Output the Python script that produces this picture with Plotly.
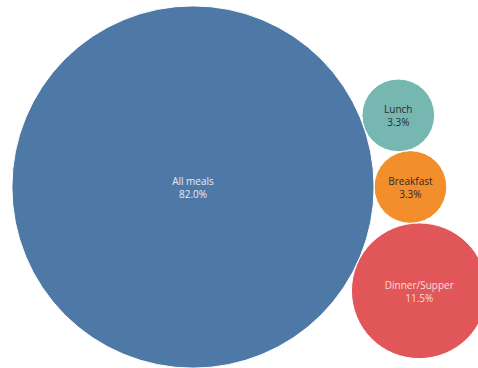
import math
import plotly.graph_objects as go

categories = ["All meals", "Lunch", "Breakfast", "Dinner/Supper"]
shares = [82.0, 3.3, 3.3, 11.5]
colors = ["#4e79a7", "#76b7b2", "#f28e2b", "#e15759"]
text_colors = ["#e6ebf2", "#2b2b2b", "#2b2b2b", "#f7dede"]

# radius proportional to sqrt(value)
radii = [math.sqrt(v) for v in shares]

def tangent_pos(c1, r1, c2, r2, r, sign):
    """Place circle of radius r tangent to circles (c1,r1) and (c2,r2)."""
    d1 = r1 + r
    d2 = r2 + r
    dx, dy = c2[0] - c1[0], c2[1] - c1[1]
    d = math.hypot(dx, dy)
    a = (d1 ** 2 - d2 ** 2 + d ** 2) / (2 * d)
    h = math.sqrt(max(d1 ** 2 - a ** 2, 0))
    px, py = c1[0] + a * dx / d, c1[1] + a * dy / d
    return (px - sign * h * dy / d, py + sign * h * dx / d)

# simple packing: largest at origin, breakfast to its right, others tangent
pos = {}
pos[0] = (0.0, 0.0)
pos[2] = (radii[0] + radii[2], 0.0)
pos[1] = tangent_pos(pos[0], radii[0], pos[2], radii[2], radii[1], 1)
pos[3] = tangent_pos(pos[0], radii[0], pos[2], radii[2], radii[3], -1)

fig = go.Figure()
shapes = []
for i in range(len(categories)):
    cx, cy = pos[i]
    r = radii[i]
    shapes.append(dict(type="circle", xref="x", yref="y",
                       x0=cx - r, x1=cx + r, y0=cy - r, y1=cy + r,
                       fillcolor=colors[i], line=dict(color="white", width=1),
                       layer="below"))

for i in range(len(categories)):
    cx, cy = pos[i]
    fig.add_trace(go.Scatter(
        x=[cx], y=[cy - 0.1], mode="text",
        text=[f"{categories[i]}<br>{shares[i]:.1f}%"],
        textfont=dict(family="Open Sans, sans-serif", size=10, color=text_colors[i]),
        textposition="middle center", hoverinfo="skip", showlegend=False))

scale = 20.0  # px per unit
W, H = 478, 368
cxp, cyp = 193, 187
fig.update_layout(
    width=W, height=H, margin=dict(l=0, r=0, t=0, b=0),
    paper_bgcolor="white", plot_bgcolor="white",
    shapes=shapes,
    xaxis=dict(range=[-cxp / scale, (W - cxp) / scale], visible=False, fixedrange=True),
    yaxis=dict(range=[-(H - cyp) / scale, cyp / scale], visible=False, fixedrange=True),
    showlegend=False,
)
fig.write_html("out.html")
